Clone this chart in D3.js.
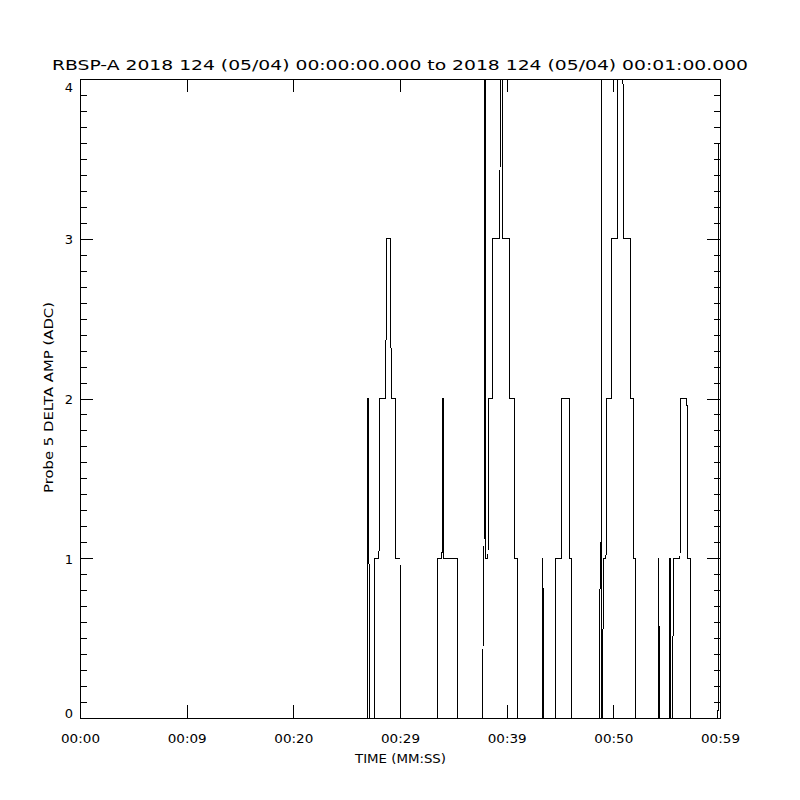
<!DOCTYPE html>
<html><head><meta charset="utf-8">
<script src="https://cdn.jsdelivr.net/npm/d3@7"></script>
<style>
body{margin:0;background:#fff}
text{font-family:"DejaVu Sans",sans-serif;fill:#000}
</style>
</head><body>
<svg id="chart" width="800" height="800"></svg>
<script>
// ---- data (time in seconds after 00:00:00, value in ADC) ----
const sampleTimes = [
  0, 26.925, 27.0, 27.056, 27.131, 27.581, 27.638, 28.031, 28.088, 28.669, 28.725,
  29.119, 29.175, 29.569, 29.625, 30.0, 30.038,
  33.488, 33.525, 33.938, 33.975, 34.069, 34.106, 35.372, 35.409,
  37.763, 37.809, 37.875, 37.931, 37.988, 38.044, 38.25, 38.297, 38.653, 38.7,
  39.356, 39.403, 39.563, 39.619, 40.247, 40.294, 40.716, 40.763, 40.969, 41.016,
  43.35, 43.397, 43.453, 44.541, 44.578, 45.113, 45.15, 45.863, 45.9, 46.05, 46.088,
  48.722, 48.759, 48.844, 48.891, 48.938, 49.013, 49.05, 49.313, 49.369, 49.828, 49.875,
  50.363, 50.409, 50.906, 50.963, 51.563, 51.609, 51.844, 51.891, 52.078, 52.125,
  54.216, 54.263, 54.309, 55.238, 55.266, 55.378, 55.406, 55.538, 55.65,
  56.25, 56.325, 56.906, 56.944, 57.244, 57.281, 59.813, 59.906
];
const sampleValues = [
  0, 0, 2, 2, 0, 0, 1, 1, 2, 2, 3,
  3, 2, 2, 1, 1, 0,
  0, 1, 1, 2, 2, 1, 1, 0,
  0, 1, 1, 4, 4, 1, 1, 2, 2, 3,
  3, 4, 4, 3, 3, 2, 2, 1, 1, 0,
  0, 1, 0, 0, 1, 1, 2, 2, 1, 1, 0,
  0, 1, 1, 4, 0, 0, 1, 1, 2, 2, 3,
  3, 4, 4, 3, 3, 2, 2, 1, 1, 0,
  0, 1, 0, 0, 1, 1, 0, 0, 1,
  1, 2, 2, 1, 1, 0, 0, 3.6
];
const xTickValues = [0, 10, 20, 30, 40, 50, 60];
const xTickLabels = ["00:00", "00:09", "00:20", "00:29", "00:39", "00:50", "00:59"];
const yTickValues = [0, 1, 2, 3, 4];
const yTickLabels = ["0", "1", "2", "3", "4"];
const yMinorStep = 0.1;
const titleText = "RBSP-A 2018 124 (05/04) 00:00:00.000 to 2018 124 (05/04) 00:01:00.000";
const xAxisTitle = "TIME (MM:SS)";
const yAxisTitle = "Probe 5 DELTA AMP (ADC)";

// ---- layout ----
const L = 80, R = 720, T = 79, B = 718;
const svg = d3.select("#chart");
svg.append("rect").attr("width", 800).attr("height", 800).attr("fill", "#fff");

const x = d3.scaleLinear().domain([0, 60]).range([L, R]);
const y = d3.scaleLinear().domain([0, 4]).range([B, T]);

const minorVals = d3.range(0, 4 + 1e-9, yMinorStep).map(v => +v.toFixed(1)).filter(v => !yTickValues.includes(v));

function styleAxis(g) {
  g.select(".domain").remove();
  g.selectAll("line").attr("stroke", "#000").attr("stroke-width", 1).attr("shape-rendering", "crispEdges");
}

// bottom axis
svg.append("g").attr("transform", `translate(0,${B})`)
  .call(d3.axisBottom(x).tickValues(xTickValues).tickSize(-13).tickFormat((d, i) => xTickLabels[i]))
  .call(styleAxis)
  .call(g => g.selectAll("text").attr("y", 25).attr("dy", 0).attr("font-size", 13)
    .attr("textLength", 39).attr("lengthAdjust", "spacingAndGlyphs"));
// top axis
svg.append("g").attr("transform", `translate(0,${T})`)
  .call(d3.axisTop(x).tickValues(xTickValues).tickSize(-13).tickFormat(""))
  .call(styleAxis);
// left axis major
svg.append("g").attr("transform", `translate(${L},0)`)
  .call(d3.axisLeft(y).tickValues(yTickValues).tickSize(-13).tickFormat((d, i) => yTickLabels[i]))
  .call(styleAxis)
  .call(g => g.selectAll("text").attr("x", -7).attr("font-size", 13)
    .attr("dy", d => d === 0 ? "-0.05em" : d === 4 ? "0.95em" : "0.38em"));
// left minor
svg.append("g").attr("transform", `translate(${L},0)`)
  .call(d3.axisLeft(y).tickValues(minorVals).tickSize(-6.5).tickFormat(""))
  .call(styleAxis);
// right axis major + minor
svg.append("g").attr("transform", `translate(${R},0)`)
  .call(d3.axisRight(y).tickValues(yTickValues).tickSize(-13).tickFormat(""))
  .call(styleAxis);
svg.append("g").attr("transform", `translate(${R},0)`)
  .call(d3.axisRight(y).tickValues(minorVals).tickSize(-6.5).tickFormat(""))
  .call(styleAxis);

// data line
const pts = sampleTimes.map((t, i) => ({t, v: sampleValues[i]}));
svg.append("defs").append("clipPath").attr("id", "clip")
  .append("rect").attr("x", L).attr("y", T - 1).attr("width", R - L + 1).attr("height", B - T + 2);
svg.append("path").datum(pts)
  .attr("clip-path", "url(#clip)")
  .attr("fill", "none").attr("stroke", "#000").attr("stroke-width", 1)
  .attr("shape-rendering", "crispEdges")
  .attr("d", d3.line().x(d => x(d.t)).y(d => y(d.v)));

// frame
svg.append("rect").attr("x", L).attr("y", T).attr("width", R - L).attr("height", B - T)
  .attr("fill", "none").attr("stroke", "#000").attr("stroke-width", 1).attr("shape-rendering", "crispEdges");

// titles
svg.append("text").attr("x", 52).attr("y", 69.5).attr("font-size", 13.5)
  .attr("textLength", 696).attr("lengthAdjust", "spacingAndGlyphs").text(titleText);
svg.append("text").attr("x", 355).attr("y", 763).attr("font-size", 13)
  .attr("textLength", 91).attr("lengthAdjust", "spacingAndGlyphs").text(xAxisTitle);
svg.append("text").attr("transform", "translate(53,493) rotate(-90)").attr("font-size", 13)
  .attr("textLength", 191).attr("lengthAdjust", "spacingAndGlyphs").text(yAxisTitle);
</script>
</body></html>
